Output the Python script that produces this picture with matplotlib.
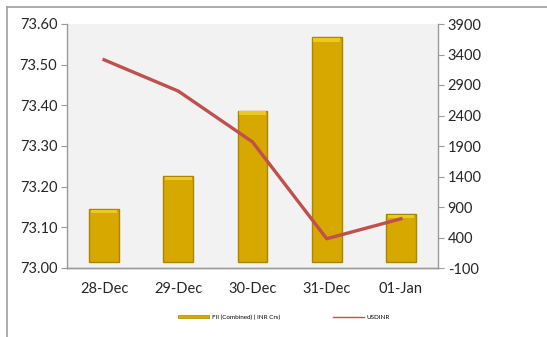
import matplotlib
matplotlib.use("Agg")
import matplotlib.pyplot as plt
from matplotlib.lines import Line2D
from matplotlib.patches import Patch
import numpy as np

categories = ["28-Dec", "29-Dec", "30-Dec", "31-Dec", "01-Jan"]
fii_values = [868, 1409, 2480, 3680, 786]
usdinr_values = [73.512, 73.435, 73.310, 73.072, 73.121]
left_ticks = [73.00, 73.10, 73.20, 73.30, 73.40, 73.50, 73.60]
right_ticks = [-100, 400, 900, 1400, 1900, 2400, 2900, 3400, 3900]
legend_labels = ["FII (Combined) ( INR Crs)", "USDINR"]

plt.rcParams['font.family'] = ['Lato', 'DejaVu Sans']

fig = plt.figure(figsize=(5.47, 3.37), dpi=100)
fig.patch.set_facecolor('white')

# figure frame (left and top border)
fig.add_artist(Line2D([7/547, 7/547], [0, 1 - 7/337], transform=fig.transFigure,
                      color='#a0a0a0', lw=1.2))
fig.add_artist(Line2D([7/547, 1], [1 - 7/337, 1 - 7/337], transform=fig.transFigure,
                      color='#a0a0a0', lw=1.2))

ax = fig.add_axes([67/547, 1 - 268/337, (438 - 67)/547, (268 - 24)/337])
ax2 = ax.twinx()

x = np.arange(len(categories))

# bars on right axis
ax2.bar(x, fii_values, width=0.4, bottom=0, color='#D6A800',
        edgecolor='#A88600', linewidth=1.0, zorder=2)
# light top highlight to mimic bevel
ax2.bar(x, [60 for v in fii_values], width=0.36,
        bottom=[v - 70 for v in fii_values], color='#EDC81E',
        edgecolor='none', zorder=3)

ax2.set_ylim(-100, 3900)
ax2.set_yticks(right_ticks)
ax2.set_yticklabels([str(t) for t in right_ticks])

# line on left axis, drawn above bars
ax.set_zorder(ax2.get_zorder() + 1)
ax.patch.set_visible(False)
ax2.patch.set_visible(True)
ax2.patch.set_facecolor('#f2f2f2')
ax.plot(x, usdinr_values, color='#C0504D', lw=2.4, zorder=5, solid_joinstyle='round')
ax.set_ylim(73.00, 73.60)
ax.set_yticks(left_ticks)
ax.set_yticklabels([f"{t:.2f}" for t in left_ticks])
ax.set_xlim(-0.5, len(categories) - 0.5)
ax.set_xticks(x)
ax.set_xticklabels(categories)

for a in (ax, ax2):
    a.spines['top'].set_visible(False)
    for s in ('left', 'right', 'bottom'):
        a.spines[s].set_color('#9a9a9a')
        a.spines[s].set_linewidth(1.0)
    a.tick_params(axis='y', colors='#9a9a9a', labelcolor='#262626',
                  labelsize=10.5, length=4, width=0.8, pad=3)
ax.spines['right'].set_visible(False)
ax2.spines['left'].set_visible(False)
ax.tick_params(axis='x', length=0, labelsize=10.5, labelcolor='#262626', pad=10)

handles = [Patch(facecolor='#D6A800', edgecolor='#A88600', lw=0.5),
           Line2D([0], [0], color='#C0504D', lw=1.0)]
fig.legend(handles, legend_labels, loc='center', bbox_to_anchor=(284/547, 1 - 317/337),
           ncol=2, frameon=False, fontsize=4.5, handlelength=5.0, handleheight=0.35,
           columnspacing=8.5, handletextpad=0.4)

fig.savefig("out.png", dpi=100, facecolor='white')
